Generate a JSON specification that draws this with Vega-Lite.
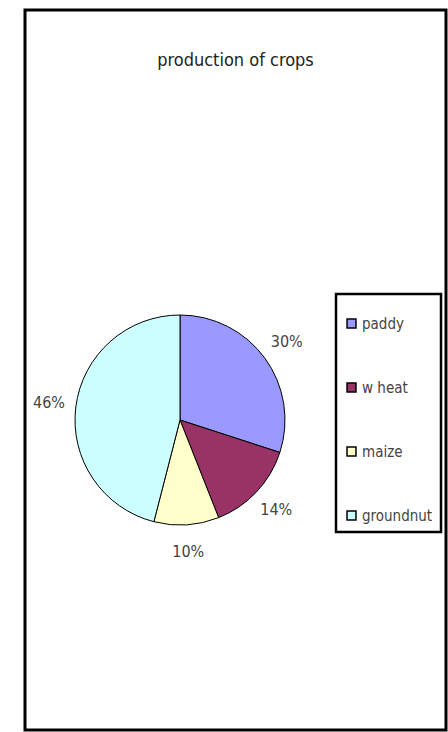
{
  "$schema": "https://vega.github.io/schema/vega-lite/v6.json",
  "width": 448,
  "height": 732,
  "autosize": {"type": "fit", "contains": "padding"},
  "padding": {"left": 25, "top": 10, "right": 2, "bottom": 2},
  "background": "white",
  "view": {"stroke": "black", "strokeWidth": 3, "fill": "white"},
  "title": {
    "text": "production of crops",
    "offset": -60,
    "anchor": "middle",
    "frame": "group",
    "fontSize": 18,
    "font": "DejaVu Sans Condensed, Liberation Sans, sans-serif",
    "fontWeight": "normal",
    "color": "#222"
  },
  "data": {
    "values": [
      {"crop": "paddy", "share": 30, "label": "30%", "order": 1},
      {"crop": "w heat", "share": 14, "label": "14%", "order": 2},
      {"crop": "maize", "share": 10, "label": "10%", "order": 3},
      {"crop": "groundnut", "share": 46, "label": "46%", "order": 4}
    ]
  },
  "encoding": {
    "theta": {"field": "share", "type": "quantitative", "stack": true},
    "order": {"field": "order", "type": "quantitative"},
    "color": {
      "field": "crop",
      "type": "nominal",
      "sort": ["paddy", "w heat", "maize", "groundnut"],
      "scale": {
        "domain": ["paddy", "w heat", "maize", "groundnut"],
        "range": ["#9999FF", "#993366", "#FFFFCC", "#CCFFFF"]
      },
      "legend": {
        "title": " ",
        "titleFontSize": 10,
        "titlePadding": 4,
        "orient": "none",
        "legendX": 311,
        "legendY": 284,
        "symbolType": "square",
        "symbolSize": 80,
        "symbolStrokeColor": "black",
        "symbolStrokeWidth": 1.5,
        "symbolOpacity": 1,
        "labelFont": "DejaVu Sans Condensed, Liberation Sans, sans-serif",
        "labelFontSize": 15,
        "labelColor": "#444",
        "labelOffset": 3,
        "rowPadding": 48,
        "padding": 8,
        "strokeColor": "black",
        "encode": {"legend": {"update": {"strokeWidth": {"value": 2.5}}}}
      }
    }
  },
  "layer": [
    {
      "mark": {"type": "arc", "x": 155, "y": 410, "outerRadius": 105, "stroke": "black", "strokeWidth": 1}
    },
    {
      "mark": {"type": "text", "x": 155, "y": 410, "radius": 132, "fontSize": 16, "font": "DejaVu Sans Condensed, Liberation Sans, sans-serif", "color": "#444"},
      "encoding": {"text": {"field": "label"}, "color": {"value": "#444"}}
    }
  ]
}
